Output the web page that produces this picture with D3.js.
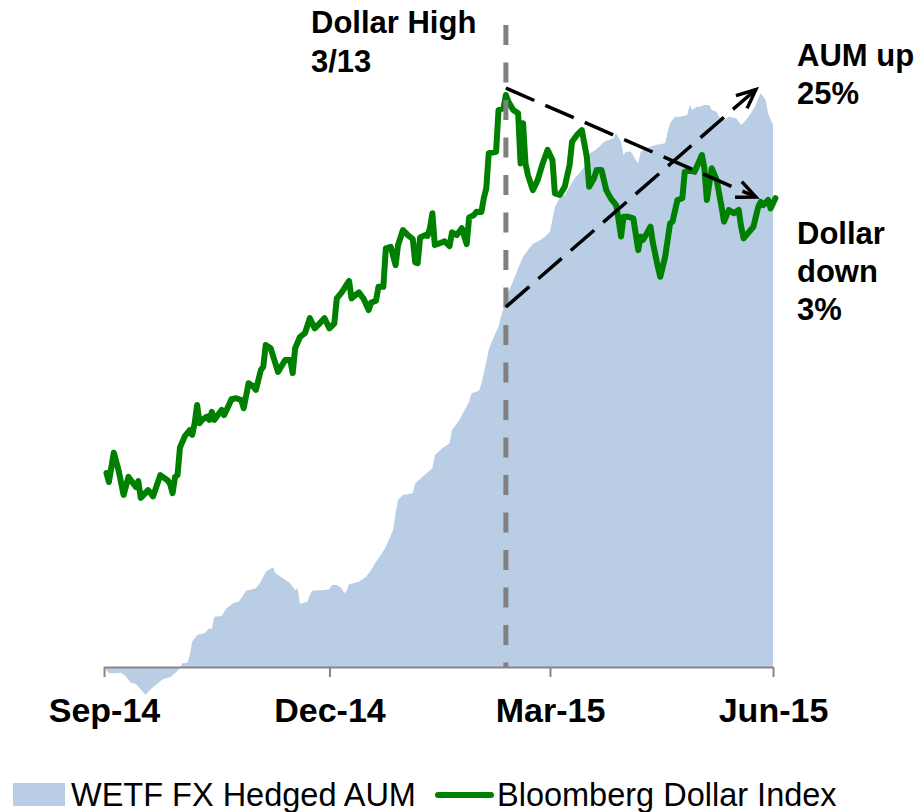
<!DOCTYPE html>
<html><head><meta charset="utf-8">
<script src="https://cdn.jsdelivr.net/npm/d3@7"></script>
<style>
body{margin:0;background:#fff}
svg{display:block}
text{font-family:"Liberation Sans",Arial,Helvetica,sans-serif}
</style>
</head><body>
<svg id="chart" width="923" height="812"></svg>
<script>
// ---------------- DATA ----------------
const seriesNames = ["WETF FX Hedged AUM", "Bloomberg Dollar Index"];

const dollarDates = [
"2014-10-01","2014-10-02","2014-10-04","2014-10-06","2014-10-08","2014-10-10","2014-10-13","2014-10-14","2014-10-15","2014-10-18",
"2014-10-20","2014-10-23","2014-10-26","2014-10-27","2014-10-28","2014-10-29","2014-10-30","2014-10-31","2014-11-02","2014-11-04",
"2014-11-05","2014-11-06","2014-11-07","2014-11-08","2014-11-09","2014-11-11","2014-11-12","2014-11-13","2014-11-14","2014-11-17",
"2014-11-18","2014-11-20","2014-11-21","2014-11-23","2014-11-25","2014-11-26","2014-11-28","2014-11-30","2014-12-01","2014-12-03",
"2014-12-04","2014-12-05","2014-12-07","2014-12-10","2014-12-13","2014-12-15","2014-12-16","2014-12-17","2014-12-19","2014-12-21",
"2014-12-23","2014-12-25","2014-12-27","2014-12-29","2014-12-31","2015-01-02","2015-01-03","2015-01-05","2015-01-08","2015-01-09",
"2015-01-12","2015-01-14","2015-01-16","2015-01-17","2015-01-19","2015-01-20","2015-01-22","2015-01-23","2015-01-25","2015-01-27",
"2015-01-28","2015-01-30","2015-02-01","2015-02-03","2015-02-04","2015-02-05","2015-02-06","2015-02-08","2015-02-09","2015-02-10",
"2015-02-11","2015-02-12","2015-02-14","2015-02-16","2015-02-18","2015-02-19","2015-02-21","2015-02-23","2015-02-25","2015-02-26",
"2015-02-28","2015-03-01","2015-03-03","2015-03-04","2015-03-05","2015-03-06","2015-03-09","2015-03-10","2015-03-12","2015-03-13",
"2015-03-14","2015-03-16","2015-03-18","2015-03-19","2015-03-20","2015-03-21","2015-03-22","2015-03-24","2015-03-26","2015-03-28",
"2015-03-30","2015-04-01","2015-04-02","2015-04-04","2015-04-06","2015-04-08","2015-04-09","2015-04-11","2015-04-13","2015-04-15",
"2015-04-16","2015-04-18","2015-04-19","2015-04-21","2015-04-23","2015-04-25","2015-04-27","2015-04-28","2015-04-29","2015-04-30",
"2015-05-02","2015-05-04","2015-05-06","2015-05-07","2015-05-08","2015-05-11","2015-05-12","2015-05-14","2015-05-15","2015-05-17",
"2015-05-19","2015-05-20","2015-05-22","2015-05-24","2015-05-25","2015-05-27","2015-05-29","2015-06-01","2015-06-02","2015-06-03",
"2015-06-05","2015-06-07","2015-06-09","2015-06-10","2015-06-12","2015-06-14","2015-06-16","2015-06-17","2015-06-18","2015-06-22",
"2015-06-24","2015-06-25","2015-06-26","2015-06-28","2015-06-29","2015-07-01"];
const dollarValues = [
1079.0,1076.0,1085.8,1079.7,1071.7,1077.7,1074.3,1076.3,1070.7,1073.3,
1071.2,1078.3,1076.5,1075.3,1072.3,1077.7,1078.3,1087.5,1091.3,1093.3,
1091.7,1095.6,1101.7,1095.6,1096.7,1097.8,1096.7,1099.4,1096.7,1100.0,
1098.3,1101.7,1103.6,1103.9,1103.3,1100.6,1108.9,1107.8,1106.7,1113.3,
1114.4,1121.7,1120.6,1112.7,1116.7,1116.7,1112.3,1120.6,1124.4,1125.6,
1130.6,1127.2,1128.9,1130.6,1127.2,1128.9,1137.2,1139.2,1143.0,1137.2,
1139.2,1137.0,1133.3,1135.8,1136.4,1141.1,1141.1,1153.9,1154.4,1148.3,
1155.0,1160.0,1158.3,1157.0,1149.2,1148.9,1157.5,1158.3,1158.0,1160.6,
1165.6,1155.0,1155.6,1156.2,1154.6,1159.2,1158.3,1160.6,1155.3,1164.2,
1165.0,1166.1,1166.0,1170.7,1173.9,1185.6,1186.1,1200.0,1200.6,1205.0,
1202.8,1200.0,1198.9,1182.2,1195.6,1182.2,1178.3,1173.3,1176.7,1182.2,
1186.7,1183.3,1172.2,1171.7,1174.4,1181.7,1189.4,1191.7,1193.3,1184.4,
1174.4,1177.3,1180.0,1180.0,1173.2,1170.3,1168.3,1163.3,1157.8,1164.4,
1164.4,1163.9,1153.3,1157.8,1156.7,1161.1,1155.6,1147.8,1144.4,1151.1,
1162.2,1162.8,1170.0,1170.6,1179.4,1180.0,1179.4,1185.0,1180.6,1170.0,
1180.6,1176.7,1167.8,1162.8,1166.7,1165.6,1166.7,1161.1,1157.2,1161.1,
1167.8,1169.4,1168.3,1170.0,1167.2,1170.6];

// AUM change, $ billions
const aumDates = [
"2014-09-30","2014-10-02","2014-10-03","2014-10-07","2014-10-09","2014-10-11","2014-10-13","2014-10-15","2014-10-17","2014-10-19",
"2014-10-22","2014-10-24","2014-10-27","2014-10-29","2014-10-31","2014-11-01","2014-11-03","2014-11-04","2014-11-05","2014-11-07",
"2014-11-10","2014-11-12","2014-11-13","2014-11-14","2014-11-17","2014-11-19","2014-11-22","2014-11-24","2014-11-27","2014-12-01",
"2014-12-03","2014-12-05","2014-12-08","2014-12-09","2014-12-12","2014-12-15","2014-12-17","2014-12-18","2014-12-19","2014-12-22",
"2014-12-23","2014-12-24","2014-12-29","2014-12-31","2015-01-01","2015-01-03","2015-01-05","2015-01-06","2015-01-07","2015-01-08",
"2015-01-10","2015-01-12","2015-01-14","2015-01-15","2015-01-17","2015-01-19","2015-01-21","2015-01-23","2015-01-26","2015-01-27",
"2015-01-28","2015-01-30","2015-02-03","2015-02-04","2015-02-07","2015-02-11","2015-02-12","2015-02-15","2015-02-18","2015-02-19",
"2015-02-22","2015-02-26","2015-02-27","2015-03-02","2015-03-03","2015-03-04","2015-03-06","2015-03-07","2015-03-09","2015-03-10",
"2015-03-11","2015-03-14","2015-03-16","2015-03-18","2015-03-20","2015-03-22","2015-03-24","2015-03-27","2015-03-29","2015-03-31",
"2015-04-02","2015-04-04","2015-04-06","2015-04-08","2015-04-10","2015-04-12","2015-04-14","2015-04-16","2015-04-18","2015-04-20",
"2015-04-22","2015-04-24","2015-04-26","2015-04-27","2015-04-29","2015-04-30","2015-05-01","2015-05-03","2015-05-05","2015-05-06",
"2015-05-07","2015-05-09","2015-05-11","2015-05-13","2015-05-17","2015-05-18","2015-05-19","2015-05-21","2015-05-23","2015-05-26",
"2015-05-27","2015-05-28","2015-05-30","2015-05-31","2015-06-02","2015-06-04","2015-06-05","2015-06-07","2015-06-08","2015-06-10",
"2015-06-12","2015-06-15","2015-06-17","2015-06-19","2015-06-21","2015-06-23","2015-06-24","2015-06-25","2015-06-27","2015-06-28",
"2015-06-30"];
const aumValues = [
0.00,-0.25,-0.25,-0.23,-0.39,-0.63,-0.68,-0.89,-1.12,-0.89,
-0.65,-0.49,-0.41,-0.25,-0.05,0.15,0.17,0.48,1.01,1.28,
1.35,1.55,1.51,2.01,2.04,2.35,2.57,2.61,3.05,3.15,
3.41,3.81,3.99,3.75,3.55,3.35,3.08,3.15,2.52,2.61,
2.88,3.05,3.08,3.11,3.28,3.28,3.15,2.95,3.05,3.32,
3.35,3.41,3.55,3.61,3.88,4.21,4.48,4.81,5.48,6.15,
6.68,6.88,6.95,7.35,7.61,7.95,8.48,8.75,8.95,9.48,
9.88,10.61,10.95,11.05,11.35,11.75,12.68,12.95,13.41,13.61,
14.01,15.01,15.44,15.95,16.41,16.68,16.92,17.08,17.21,17.41,
18.41,18.75,18.88,19.21,19.55,19.75,20.01,20.55,20.64,20.80,
21.00,21.08,21.15,21.35,21.01,20.48,20.61,20.61,20.28,20.15,
20.61,20.75,20.81,20.88,20.95,21.41,21.75,22.01,22.01,22.08,
22.48,22.28,22.41,22.41,22.48,22.48,22.28,22.21,22.01,21.88,
22.01,21.95,21.68,21.88,22.15,22.48,22.75,22.95,22.68,22.15,
21.68];

const tickDates = ["2014-09-30","2014-12-31","2015-03-31","2015-06-30"];
const tickLabels = ["Sep-14","Dec-14","Mar-15","Jun-15"];
const dollarHighDate = "2015-03-13";
// arrows in data units: [date, value]
const dollarArrow = [["2015-03-13", 1207.3], ["2015-06-23", 1171.0]];
const aumArrow = [["2015-03-13", 14.4], ["2015-06-23", 23.1]];
const labelHigh = ["Dollar High", "3/13"];
const labelAum = ["AUM up", "25%"];
const labelDollar = ["Dollar", "down", "3%"];

// ---------------- CHART ----------------
const parse = d3.timeParse("%Y-%m-%d");
const svg = d3.select("#chart");

const x = d3.scaleTime()
  .domain([parse("2014-09-30"), parse("2015-06-30")])
  .range([104, 773]);
const yAum = d3.scaleLinear().domain([0, 24]).range([667, 67]);
const yDollar = d3.scaleLinear().domain([1000, 1220]).range([710, 50]);

const aum = aumDates.map((d, i) => ({date: parse(d), v: aumValues[i]}));
const dollar = dollarDates.map((d, i) => ({date: parse(d), v: dollarValues[i]}));

const C = {area: "#B9CDE5", green: "#008000", grey: "#808080", axis: "#868686"};

// area
svg.append("path")
  .datum(aum)
  .attr("fill", C.area)
  .attr("d", d3.area().x(d => x(d.date)).y0(yAum(0)).y1(d => yAum(d.v)));

// axis
const xAxis = d3.axisBottom(x)
  .tickValues(tickDates.map(parse))
  .tickFormat((d, i) => tickLabels[i])
  .tickSize(10).tickSizeOuter(0);
const gx = svg.append("g").attr("transform", `translate(0,${yAum(0)})`).call(xAxis);
gx.select(".domain").attr("stroke", C.axis).attr("stroke-width", 2);
gx.selectAll(".tick line").attr("stroke", C.axis).attr("stroke-width", 2);
gx.selectAll(".tick text")
  .attr("fill", "#000").attr("font-size", 34).attr("font-weight", "bold")
  .attr("font-family", '"Liberation Sans",Arial,sans-serif')
  .attr("y", 55).attr("dy", 0);

// green line
svg.append("path")
  .datum(dollar)
  .attr("fill", "none")
  .attr("stroke", C.green)
  .attr("stroke-width", 6)
  .attr("stroke-linejoin", "round")
  .attr("stroke-linecap", "round")
  .attr("d", d3.line().x(d => x(d.date)).y(d => yDollar(d.v)));

// vertical dollar-high line
const xHigh = x(parse(dollarHighDate));
svg.append("line")
  .attr("x1", xHigh).attr("x2", xHigh)
  .attr("y1", 25).attr("y2", yAum(0))
  .attr("stroke", C.grey).attr("stroke-width", 5)
  .attr("stroke-dasharray", "20,17.5");

// arrowhead marker
const defs = svg.append("defs");
defs.append("marker")
  .attr("id", "openArrow")
  .attr("markerUnits", "userSpaceOnUse")
  .attr("viewBox", "-24 -14 28 28")
  .attr("markerWidth", 28).attr("markerHeight", 28)
  .attr("refX", 0).attr("refY", 0)
  .attr("orient", "auto")
  .append("path")
  .attr("d", "M-19,-8.5 L0,0 L-19,8.5")
  .attr("fill", "none").attr("stroke", "#000").attr("stroke-width", 3.5)
  .attr("stroke-linejoin", "miter");

function arrow(pts, yScale) {
  svg.append("line")
    .attr("x1", x(parse(pts[0][0]))).attr("y1", yScale(pts[0][1]))
    .attr("x2", x(parse(pts[1][0]))).attr("y2", yScale(pts[1][1]))
    .attr("stroke", "#000").attr("stroke-width", 3.5)
    .attr("stroke-dasharray", "31,12")
    .attr("marker-end", "url(#openArrow)");
}
arrow(dollarArrow, yDollar);
arrow(aumArrow, yAum);

// annotation text
function label(lines, xPos, yFirst, lh) {
  const t = svg.append("text")
    .attr("font-size", 31).attr("font-weight", "bold").attr("fill", "#000");
  lines.forEach((s, i) => t.append("tspan").attr("x", xPos).attr("y", yFirst + i * lh).text(s));
}
label(labelHigh, 311, 33, 38.5);
label(labelAum, 797, 66, 37.5);
label(labelDollar, 797, 244, 38);

// legend
const lg = svg.append("g").attr("font-size", 32.5);
lg.append("rect").attr("x", 13).attr("y", 783).attr("width", 52).attr("height", 23).attr("fill", C.area);
lg.append("text").attr("x", 71).attr("y", 806).attr("fill", "#000").text(seriesNames[0]);
lg.append("line").attr("x1", 438).attr("x2", 491).attr("y1", 795).attr("y2", 795)
  .attr("stroke", C.green).attr("stroke-width", 6).attr("stroke-linecap", "round");
lg.append("text").attr("x", 497).attr("y", 806).attr("fill", "#000").text(seriesNames[1]);
</script>
</body></html>
